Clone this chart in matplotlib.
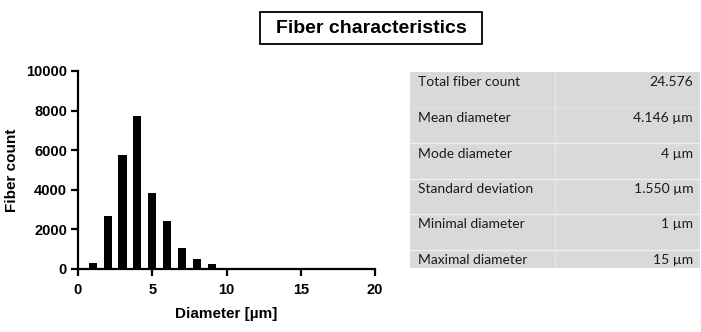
import matplotlib.pyplot as plt
from matplotlib.patches import Rectangle

# histogram values (diameter in µm -> fiber count)
diameters = [1, 2, 3, 4, 5, 6, 7, 8, 9, 10, 11, 12, 13, 14, 15]
counts = [310, 2670, 5760, 7750, 3830, 2430, 1075, 485, 235, 15, 7, 4, 2, 1, 1]

stat_names = ["Total fiber count", "Mean diameter", "Mode diameter",
              "Standard deviation", "Minimal diameter", "Maximal diameter"]
stat_values = ["24.576", "4.146 µm", "4 µm", "1.550 µm", "1 µm", "15 µm"]

W, H = 701, 332
fig = plt.figure(figsize=(W / 100, H / 100), dpi=100)
plt.rcParams['font.family'] = ['Liberation Sans', 'DejaVu Sans']


def px_axes(x0, y0, x1, y1):
    # pixel box (top-left origin) -> figure fraction rect
    return [x0 / W, 1 - y1 / H, (x1 - x0) / W, (y1 - y0) / H]


# histogram
ax = fig.add_axes(px_axes(78, 71, 375, 269))
ax.bar(diameters, counts, width=0.55, color='black')
ax.set_xlim(0, 20)
ax.set_ylim(0, 10000)
ax.set_xticks([0, 5, 10, 15, 20])
ax.set_yticks([0, 2000, 4000, 6000, 8000, 10000])
for s in ['top', 'right']:
    ax.spines[s].set_visible(False)
for s in ['left', 'bottom']:
    ax.spines[s].set_linewidth(1.6)
ax.tick_params(width=1.6, length=5, labelsize=10.5)
ax.tick_params(axis='x', pad=5)
ax.tick_params(axis='y', pad=3)
for lab in ax.get_xticklabels() + ax.get_yticklabels():
    lab.set_fontweight('bold')
ax.set_xlabel("Diameter [µm]", fontsize=11, fontweight='bold', labelpad=7)
ax.set_ylabel("Fiber count", fontsize=11, fontweight='bold', labelpad=5)

# title box
fig.patches.append(Rectangle((260 / W, 1 - 44 / H), 222 / W, 32 / H,
                             transform=fig.transFigure, fc='white', ec='black', lw=1.3))
fig.text(371 / W, 1 - 28.5 / H, "Fiber characteristics", ha='center', va='center',
         fontsize=14, fontweight='bold')

# stats table
tx0, tx1, ty0, ty1 = 410, 700, 72, 268
tab = fig.add_axes(px_axes(tx0, ty0, tx1, ty1))
tab.set_xlim(tx0, tx1)
tab.set_ylim(ty1, ty0)
tab.axis('off')
tab.add_patch(Rectangle((tx0, ty0), tx1 - tx0, ty1 - ty0, fc='#d9d9d9', ec='none'))
for yl in [108, 143, 179, 214, 250]:
    c = '#e0e0e0' if yl == 108 else '#efefef'
    tab.plot([tx0, tx1], [yl, yl], color=c, lw=1)
tab.plot([555, 555], [ty0, ty1], color='#e6e6e6', lw=1)
text_y = [82, 118, 154, 189, 224, 260]
for name, val, y in zip(stat_names, stat_values, text_y):
    tab.text(418, y, name, ha='left', va='center', fontsize=10,
             family=['Lato', 'DejaVu Sans'], color='#1a1a1a')
    tab.text(693, y, val, ha='right', va='center', fontsize=10,
             family=['Lato', 'DejaVu Sans'], color='#1a1a1a')

fig.savefig('out.png', dpi=100)
